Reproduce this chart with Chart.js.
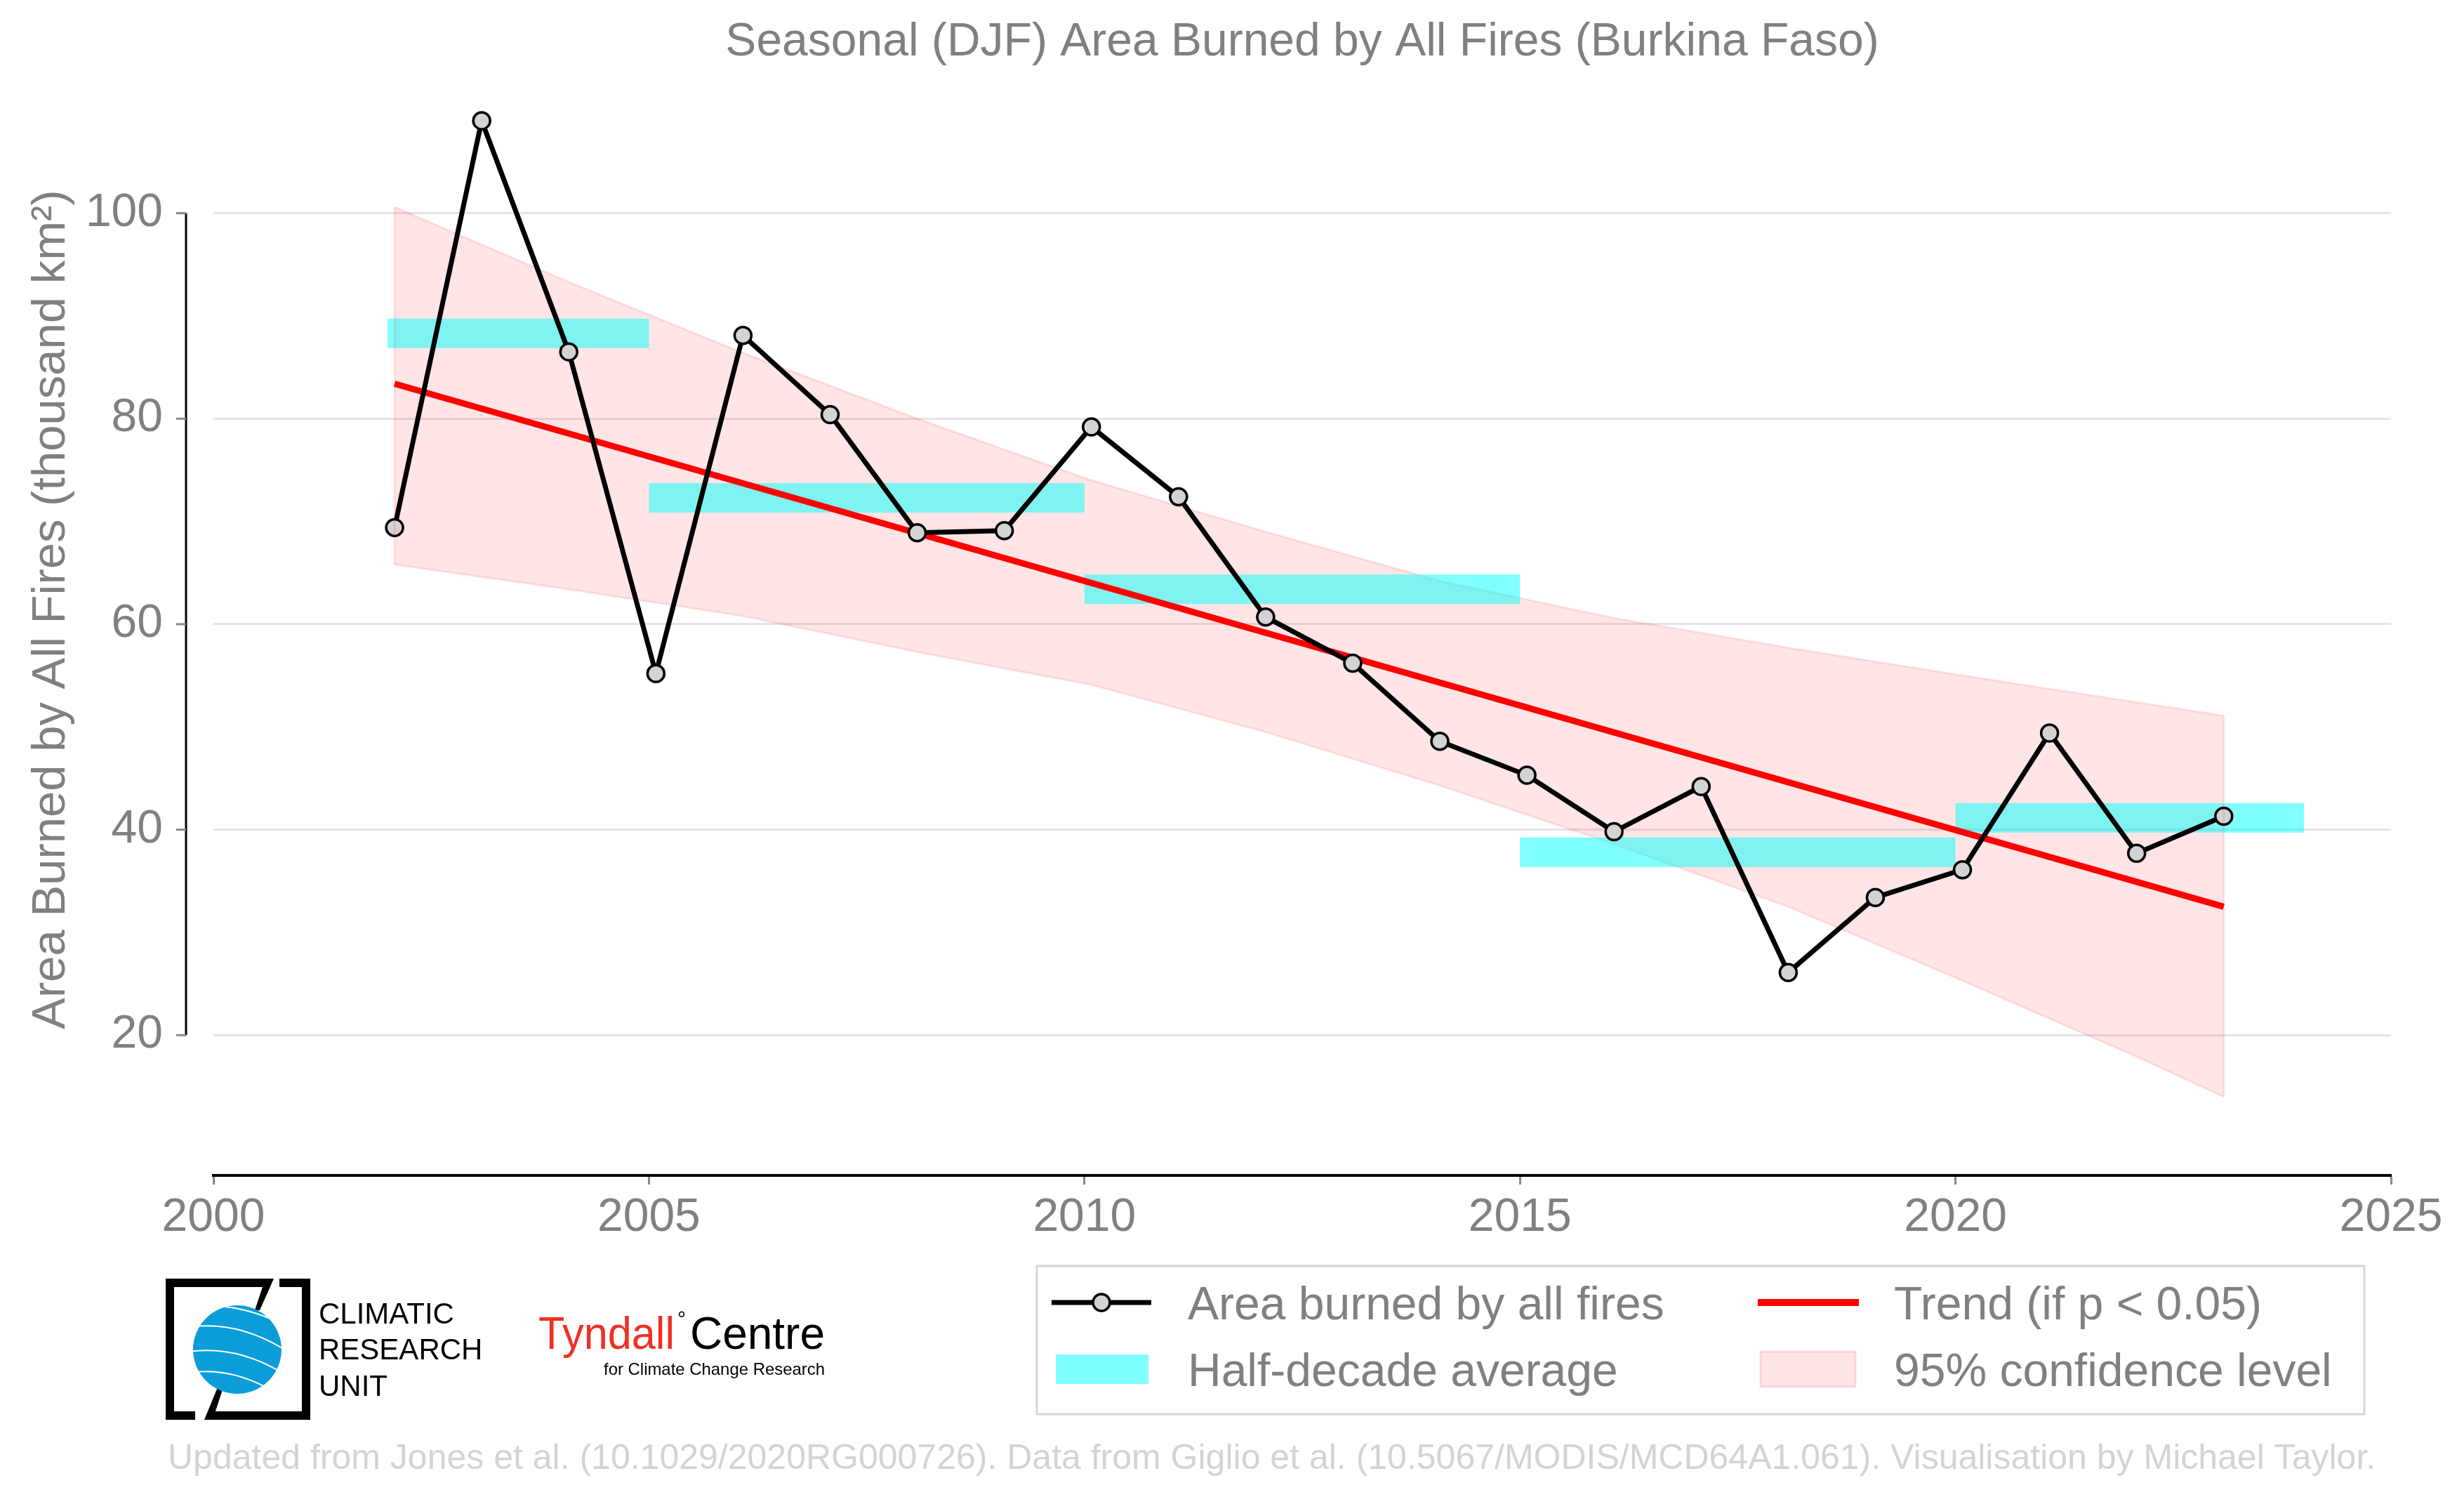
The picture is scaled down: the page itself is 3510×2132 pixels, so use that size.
<!DOCTYPE html>
<html>
<head>
<meta charset="utf-8">
<title>Seasonal (DJF) Area Burned by All Fires (Burkina Faso)</title>
<script src="https://cdn.jsdelivr.net/npm/chart.js@4.4.1/dist/chart.umd.min.js"></script>
<style>
  html, body { margin: 0; padding: 0; background: #fff; overflow: hidden; }
  canvas { display: block; }
</style>
</head>
<body>
<canvas id="fireChart" width="3510" height="2132" style="width:3510px;height:2132px"></canvas>
<script>
// datos (miles de km2)
const years = [2002, 2003, 2004, 2005, 2006, 2007, 2008, 2009, 2010, 2011, 2012,
               2013, 2014, 2015, 2016, 2017, 2018, 2019, 2020, 2021, 2022, 2023];
const burned = [69.4, 109.0, 86.5, 55.2, 88.1, 80.4, 68.9, 69.1, 79.2, 72.4, 60.7,
                56.2, 48.6, 45.3, 39.8, 44.2, 26.1, 33.4, 36.1, 49.4, 37.7, 41.3];

// medias por medio decenio
const halfStart = [2002, 2005, 2010, 2015, 2020];
const halfEnd = [2005, 2010, 2015, 2020, 2024];
const halfAvg = [88.3, 72.3, 63.4, 37.8, 41.15];

// tendencia lineal
const trendYears = [2002, 2023];
const trendValues = [83.4, 32.5];

// banda de confianza del 95%
const bandYears = [2002, 2004, 2006, 2008, 2010, 2012, 2014, 2016, 2018, 2020, 2022, 2023];
const bandUpper = [100.6, 93.3, 86.4, 80.0, 74.0, 69.0, 64.2, 60.6, 57.7, 55.0, 52.4, 51.1];
const bandLower = [65.8, 63.4, 60.8, 57.3, 54.1, 49.5, 44.3, 38.6, 32.5, 25.3, 17.9, 14.0];

const xTicks = [2000, 2005, 2010, 2015, 2020, 2025];
const yTicks = [20, 40, 60, 80, 100];

const djfOffset = 0.08; // el invierno DJF se sitúa a principios de año
const FONT = '"Liberation Sans", Arial, sans-serif';
const GREY = '#808080';

const seriesPoints = years.map((yr, i) => ({ x: yr + djfOffset, y: burned[i] }));
const trendPoints = trendYears.map((yr, i) => ({ x: yr + djfOffset, y: trendValues[i] }));
const upperPoints = bandYears.map((yr, i) => ({ x: yr + djfOffset, y: bandUpper[i] }));
const lowerPoints = bandYears.map((yr, i) => ({ x: yr + djfOffset, y: bandLower[i] }));

// cada barra es un tramo de línea gruesa; los null cortan el trazo
const halfPoints = [];
halfAvg.forEach((v, i) => {
  halfPoints.push({ x: halfStart[i], y: v }, { x: halfEnd[i], y: v }, { x: halfEnd[i], y: null });
});

const decorPlugin = {
  id: 'decor',
  afterDraw(chart) {
    const ctx = chart.ctx;
    const area = chart.chartArea;
    const xs = chart.scales.x;
    const ys = chart.scales.y;

    ctx.save();

    // bordes verticales de la banda
    ctx.strokeStyle = 'rgba(255,0,0,0.1)';
    ctx.lineWidth = 3;
    [0, bandYears.length - 1].forEach(i => {
      const px = xs.getPixelForValue(bandYears[i] + djfOffset);
      ctx.beginPath();
      ctx.moveTo(px, ys.getPixelForValue(bandUpper[i]));
      ctx.lineTo(px, ys.getPixelForValue(bandLower[i]));
      ctx.stroke();
    });

    // eje y desplazado hacia fuera
    const spineX = area.left - 39;
    ctx.strokeStyle = '#000';
    ctx.lineWidth = 3;
    ctx.beginPath();
    ctx.moveTo(spineX, ys.getPixelForValue(yTicks[0]));
    ctx.lineTo(spineX, ys.getPixelForValue(yTicks[yTicks.length - 1]));
    ctx.stroke();
    ctx.strokeStyle = '#888';
    yTicks.forEach(v => {
      const py = ys.getPixelForValue(v);
      ctx.beginPath();
      ctx.moveTo(spineX - 14, py);
      ctx.lineTo(spineX, py);
      ctx.stroke();
    });

    // título
    ctx.fillStyle = GREY;
    ctx.font = '66px ' + FONT;
    ctx.textAlign = 'center';
    ctx.textBaseline = 'alphabetic';
    ctx.fillText('Seasonal (DJF) Area Burned by All Fires (Burkina Faso)', (area.left + area.right) / 2, 79);

    // título del eje y
    ctx.save();
    ctx.translate(92, 868);
    ctx.rotate(-Math.PI / 2);
    ctx.font = '67px ' + FONT;
    ctx.fillText('Area Burned by All Fires (thousand km\u00B2)', 0, 0);
    ctx.restore();

    // leyenda
    ctx.fillStyle = '#fff';
    ctx.fillRect(1477, 1803, 1891, 211);
    ctx.strokeStyle = '#d5d5d5';
    ctx.lineWidth = 3;
    ctx.strokeRect(1477, 1803, 1891, 211);

    ctx.strokeStyle = '#000';
    ctx.lineWidth = 7;
    ctx.beginPath();
    ctx.moveTo(1498, 1855);
    ctx.lineTo(1640, 1855);
    ctx.stroke();
    ctx.beginPath();
    ctx.arc(1569, 1855, 12, 0, Math.PI * 2);
    ctx.fillStyle = '#d3d3d3';
    ctx.fill();
    ctx.lineWidth = 3.5;
    ctx.stroke();

    ctx.fillStyle = 'rgba(0,255,255,0.5)';
    ctx.fillRect(1504, 1929, 132, 42);

    ctx.strokeStyle = '#ff0000';
    ctx.lineWidth = 10;
    ctx.beginPath();
    ctx.moveTo(2504, 1855);
    ctx.lineTo(2648, 1855);
    ctx.stroke();

    ctx.fillStyle = 'rgba(255,0,0,0.1)';
    ctx.fillRect(2508, 1925, 135, 50);
    ctx.strokeStyle = 'rgba(255,0,0,0.12)';
    ctx.lineWidth = 3;
    ctx.strokeRect(2508, 1925, 135, 50);

    ctx.fillStyle = GREY;
    ctx.font = '66px ' + FONT;
    ctx.textAlign = 'left';
    ctx.fillText(chart.data.datasets[0].label, 1692, 1879);
    ctx.fillText(chart.data.datasets[2].label, 1692, 1974);
    ctx.fillText(chart.data.datasets[1].label, 2698, 1879);
    ctx.fillText(chart.data.datasets[4].label, 2698, 1974);

    // logo CRU
    ctx.fillStyle = '#000';
    ctx.strokeStyle = '#000';
    ctx.lineWidth = 12;
    ctx.lineJoin = 'miter';
    ctx.beginPath();
    ctx.moveTo(381, 1827); ctx.lineTo(242, 1827); ctx.lineTo(242, 2016); ctx.lineTo(278, 2016);
    ctx.stroke();
    ctx.beginPath();
    ctx.moveTo(398, 1827); ctx.lineTo(436, 1827); ctx.lineTo(436, 2016); ctx.lineTo(296, 2016);
    ctx.stroke();
    ctx.beginPath();
    ctx.moveTo(378, 1821); ctx.lineTo(390, 1821); ctx.lineTo(370, 1866); ctx.lineTo(363, 1866);
    ctx.closePath(); ctx.fill();
    ctx.beginPath();
    ctx.moveTo(291, 2022); ctx.lineTo(303, 2022); ctx.lineTo(318, 1976); ctx.lineTo(310, 1976);
    ctx.closePath(); ctx.fill();

    ctx.save();
    ctx.beginPath();
    ctx.arc(338, 1922, 63, 0, Math.PI * 2);
    ctx.fillStyle = '#0a9dd9';
    ctx.fill();
    ctx.clip();
    ctx.strokeStyle = '#fff';
    ctx.lineWidth = 2;
    [[1862, 1880], [1890, 1915], [1925, 1950], [1955, 1985], [1985, 2015]].forEach(([a, b]) => {
      ctx.beginPath();
      ctx.moveTo(270, a);
      ctx.quadraticCurveTo(340, a - 10, 410, b + 10);
      ctx.stroke();
    });
    ctx.restore();

    ctx.fillStyle = '#000';
    ctx.font = '42px ' + FONT;
    ctx.textAlign = 'left';
    ctx.fillText('CLIMATIC', 454, 1885);
    ctx.fillText('RESEARCH', 454, 1936);
    ctx.fillText('UNIT', 454, 1988);

    // logo Tyndall
    ctx.font = '64px ' + FONT;
    ctx.fillStyle = '#ef3124';
    ctx.fillText('Tyndall', 767, 1921, 194);
    ctx.fillStyle = '#000';
    ctx.font = '30px ' + FONT;
    ctx.fillText('\u00B0', 965, 1888);
    ctx.font = '64px ' + FONT;
    ctx.fillText('Centre', 983, 1921, 192);
    ctx.font = '24px ' + FONT;
    ctx.fillText('for Climate Change Research', 860, 1958, 315);

    // pie
    ctx.fillStyle = '#d3d3d3';
    ctx.font = '50px ' + FONT;
    ctx.fillText('Updated from Jones et al. (10.1029/2020RG000726). Data from Giglio et al. (10.5067/MODIS/MCD64A1.061). Visualisation by Michael Taylor.', 239, 2092, 3154);

    ctx.restore();
  }
};

new Chart(document.getElementById('fireChart').getContext('2d'), {
  type: 'line',
  data: {
    datasets: [
      {
        label: 'Area burned by all fires',
        data: seriesPoints,
        borderColor: '#000',
        borderWidth: 7,
        pointRadius: 12,
        pointBorderWidth: 3.5,
        pointBackgroundColor: '#d3d3d3',
        pointBorderColor: '#000',
        tension: 0,
        fill: false
      },
      {
        label: 'Trend (if p < 0.05)',
        data: trendPoints,
        borderColor: '#ff0000',
        borderWidth: 9,
        pointRadius: 0,
        fill: false
      },
      {
        label: 'Half-decade average',
        data: halfPoints,
        borderColor: 'rgba(0,255,255,0.5)',
        borderWidth: 42,
        borderCapStyle: 'butt',
        pointRadius: 0,
        spanGaps: false,
        fill: false
      },
      {
        label: 'upper',
        data: upperPoints,
        borderColor: 'rgba(255,0,0,0.1)',
        borderWidth: 3,
        pointRadius: 0,
        fill: false
      },
      {
        label: '95% confidence level',
        data: lowerPoints,
        borderColor: 'rgba(255,0,0,0.1)',
        borderWidth: 3,
        backgroundColor: 'rgba(255,0,0,0.1)',
        pointRadius: 0,
        fill: '-1'
      }
    ]
  },
  options: {
    responsive: false,
    animation: false,
    devicePixelRatio: 1,
    layout: { padding: { left: 0, right: 104, top: 128, bottom: 358 } },
    plugins: {
      legend: { display: false },
      tooltip: { enabled: false },
      title: { display: false }
    },
    scales: {
      x: {
        type: 'linear',
        min: 2000,
        max: 2025,
        afterBuildTicks: s => { s.ticks = xTicks.map(v => ({ value: v })); },
        afterFit: s => { s.height = 100; },
        border: { display: true, color: '#000', width: 4 },
        grid: { drawOnChartArea: false, drawTicks: true, tickLength: 13, tickColor: '#888', tickWidth: 3 },
        ticks: {
          color: GREY,
          font: { family: FONT, size: 66 },
          padding: 8,
          maxRotation: 0,
          autoSkip: false,
          callback: v => String(v)
        }
      },
      y: {
        type: 'linear',
        min: 6.35,
        max: 112,
        afterBuildTicks: s => { s.ticks = yTicks.map(v => ({ value: v })); },
        afterFit: s => { s.width = 304; },
        border: { display: false },
        grid: { color: '#e5e5e5', lineWidth: 3, drawTicks: true, tickLength: 52, tickColor: 'rgba(0,0,0,0)' },
        ticks: {
          color: GREY,
          font: { family: FONT, size: 66 },
          padding: 20,
          callback: v => String(v)
        }
      }
    }
  },
  plugins: [decorPlugin]
});
</script>
</body>
</html>
